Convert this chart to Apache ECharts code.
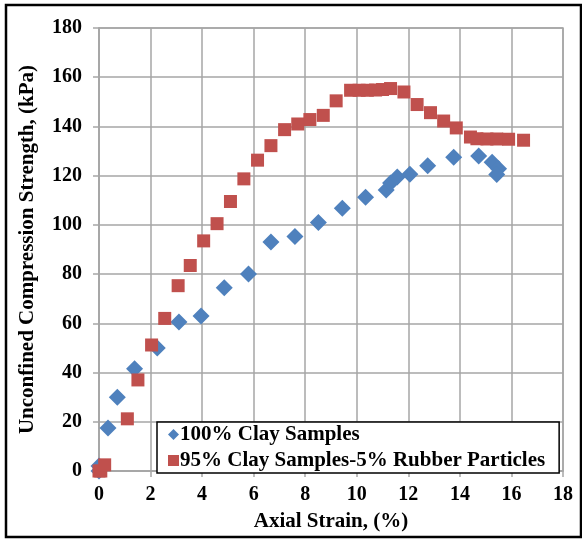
<!DOCTYPE html>
<html>
<head>
<meta charset="utf-8">
<script src="https://cdn.jsdelivr.net/npm/echarts@6/dist/echarts.min.js"></script>
<style>
  html, body { margin: 0; padding: 0; background: #fff; }
  #main { width: 582px; height: 539px; }
</style>
</head>
<body>
<div id="main"></div>
<script>
// 100% clay samples
var clayX = [0, 0, 0.35, 0.71, 1.38, 2.26, 3.1, 3.96, 4.86, 5.8, 6.67, 7.6, 8.51, 9.44, 10.34, 11.14, 11.31, 11.57, 12.06, 12.75, 13.76, 14.73, 15.25, 15.5, 15.43];
var clayY = [0, 2, 17.5, 30, 41.5, 50, 60.5, 63, 74.5, 80, 93, 95.3, 101, 106.8, 111.2, 114.2, 117, 119.5, 120.6, 124, 127.5, 128, 125.5, 122.8, 120.5];

// 95% clay - 5% rubber
var rubX = [0, 0.07, 0.22, 1.1, 1.51, 2.04, 2.55, 3.07, 3.54, 4.06, 4.58, 5.1, 5.62, 6.15, 6.67, 7.2, 7.71, 8.18, 8.7, 9.2, 9.76, 10.09, 10.41, 10.73, 11.0, 11.31, 11.83, 12.34, 12.86, 13.37, 13.86, 14.41, 14.66, 15.05, 15.43, 15.89, 16.47];
var rubY = [0, 0, 2.5, 21.2, 37, 51.2, 62, 75.3, 83.5, 93.5, 100.5, 109.5, 118.7, 126.3, 132.2, 138.7, 141, 142.8, 144.5, 150.4, 154.7, 154.7, 154.7, 154.8, 155, 155.4, 154, 148.9, 145.6, 142.2, 139.4, 135.7, 135, 134.9, 134.9, 134.8, 134.4];

var seriesNames = ['100% Clay Samples', '95% Clay Samples-5% Rubber Particles'];

function pairs(xs, ys) {
    return xs.map(function (x, i) { return [x, ys[i]]; });
}

var font = 'Liberation Serif';
var chart = echarts.init(document.getElementById('main'));

chart.setOption({
    animation: false,
    backgroundColor: '#fff',
    textStyle: { fontFamily: font },
    grid: {
        left: 99, right: 19, top: 28, bottom: 68,
        show: true, borderColor: '#a6a6a6', borderWidth: 1.5
    },
    xAxis: {
        type: 'value', min: 0, max: 18, interval: 2,
        name: 'Axial Strain, (%)', nameLocation: 'middle', nameGap: 40,
        nameTextStyle: { fontFamily: font, fontWeight: 'bold', fontSize: 21, color: '#000' },
        axisLine: { show: true, onZero: false, lineStyle: { color: '#a6a6a6', width: 1.5 } },
        axisTick: { show: true, length: 6, lineStyle: { color: '#a6a6a6', width: 1.5 } },
        axisLabel: { fontFamily: font, fontWeight: 'bold', fontSize: 20, color: '#000', margin: 14 },
        splitLine: { show: true, lineStyle: { color: '#a6a6a6', width: 1.5 } }
    },
    yAxis: {
        type: 'value', min: 0, max: 180, interval: 20,
        name: 'Unconfined Compression Strength, (kPa)', nameLocation: 'middle', nameGap: 61,
        nameTextStyle: { fontFamily: font, fontWeight: 'bold', fontSize: 21, color: '#000' },
        axisLine: { show: true, lineStyle: { color: '#a6a6a6', width: 1.5 } },
        axisTick: { show: true, length: 6, lineStyle: { color: '#a6a6a6', width: 1.5 } },
        axisLabel: { fontFamily: font, fontWeight: 'bold', fontSize: 20, color: '#000', margin: 17 },
        splitLine: { show: true, lineStyle: { color: '#a6a6a6', width: 1.5 } }
    },
    legend: {
        orient: 'vertical', left: 157, top: 422,
        backgroundColor: '#fff', borderColor: '#000', borderWidth: 1.5,
        padding: [2, 14, 2, 11], itemGap: 5,
        itemWidth: 11, itemHeight: 11,
        textStyle: { fontFamily: font, fontWeight: 'bold', fontSize: 21, color: '#000', padding: [0, 0, 0, -4] },
        data: [
            { name: seriesNames[0], icon: 'diamond' },
            { name: seriesNames[1], icon: 'rect' }
        ]
    },
    graphic: [{
        type: 'rect', z: 100, silent: true,
        shape: { x: 6, y: 5, width: 575, height: 532 },
        style: { fill: 'none', stroke: '#000', lineWidth: 2.5 }
    }],
    series: [
        {
            name: seriesNames[0], type: 'scatter', symbol: 'diamond', symbolSize: 17,
            itemStyle: { color: '#4f81bd', opacity: 1 },
            data: pairs(clayX, clayY)
        },
        {
            name: seriesNames[1], type: 'scatter', symbol: 'rect', symbolSize: 13,
            itemStyle: { color: '#c0504d', opacity: 1 },
            data: pairs(rubX, rubY)
        }
    ]
});
</script>
</body>
</html>
